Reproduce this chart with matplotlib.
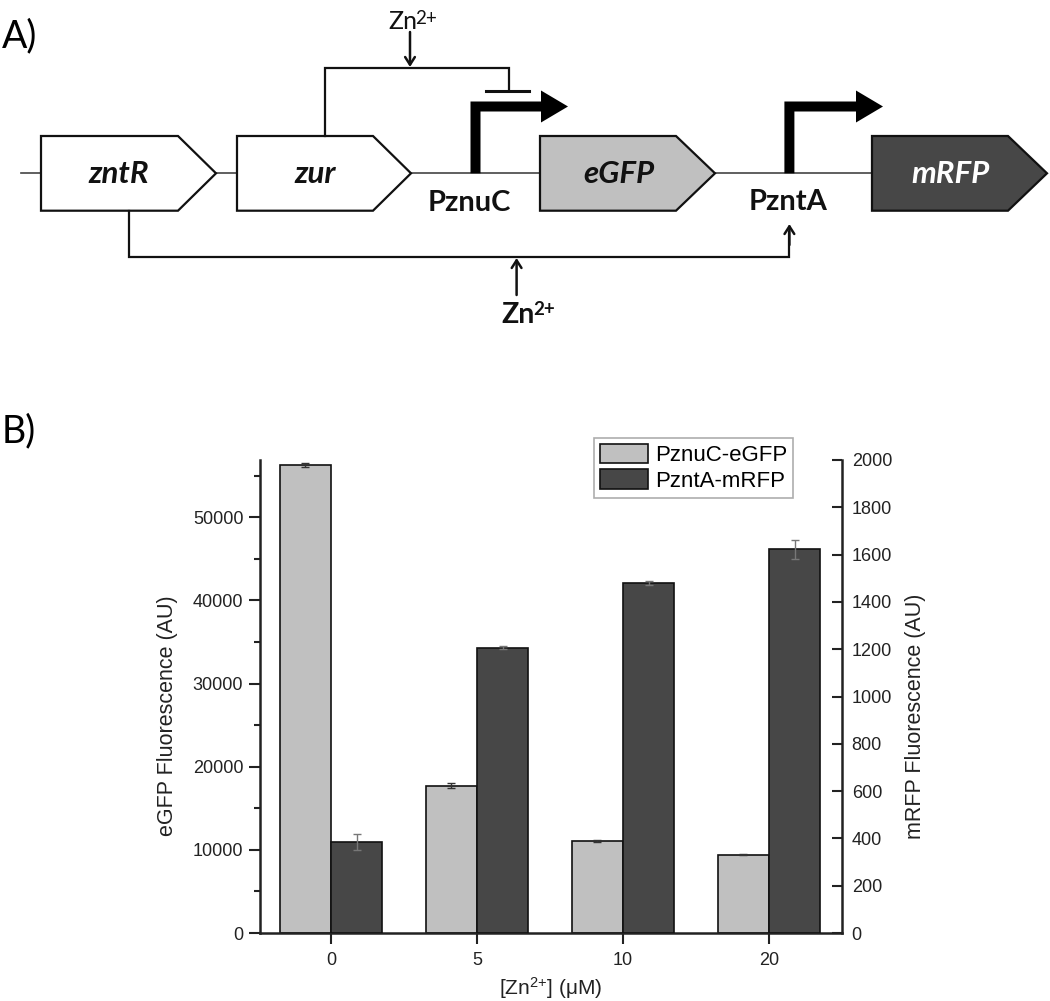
import numpy as np
import matplotlib
matplotlib.use("Agg")
import matplotlib.pyplot as plt
from matplotlib.patches import Polygon

# ---------------- data (panel B) ----------------
conc_labels = ["0", "5", "10", "20"]
egfp = [56300, 17700, 11100, 9400]
egfp_err = [250, 300, 120, 60]
mrfp = [385, 1207, 1480, 1622]
mrfp_err = [35, 8, 10, 40]
series_names = ["PznuC-eGFP", "PzntA-mRFP"]

# ---------------- diagram labels (panel A) ----------------
gene_names = ["zntR", "zur", "eGFP", "mRFP"]
promoter_names = ["PznuC", "PzntA"]

LIGHT = "#c0c0c0"
DARK = "#474747"

W, H = 1050, 1001
plt.rcParams["mathtext.default"] = "regular"
fig = plt.figure(figsize=(W / 100, H / 100), dpi=100)

# overlay axis in pixel coordinates for the diagram
ad = fig.add_axes([0, 0, 1, 1])
ad.set_xlim(0, W)
ad.set_ylim(H, 0)
ad.axis("off")

DFONT = "Lato"
INK = "#111111"
ad.text(2, 36, "A)", fontsize=27, family=DFONT, ha="left", va="center")
ad.text(2, 431, "B)", fontsize=27, family=DFONT, ha="left", va="center")

# backbone
ad.plot([21, 872], [173.3, 173.3], color="#444444", lw=1.2, zorder=1)

top, bot, mid = 136, 210.7, 173.3
genes = [(41, 178, 216, "white"), (237, 373, 411, "white"),
         (540, 676, 715, LIGHT), (872, 1008, 1047, DARK)]
label_x = [119, 315, 619, 951]
for (x0, x1, tip, fc), name, lx in zip(genes, gene_names, label_x):
    ad.add_patch(Polygon([(x0, top), (x1, top), (tip, mid), (x1, bot), (x0, bot)],
                         closed=True, fc=fc, ec=INK, lw=1.6, zorder=2))
    ad.text(lx, mid + 1, name, fontsize=22.5, family=DFONT, fontweight="bold",
            style="italic", ha="center", va="center",
            color="white" if fc == DARK else INK, zorder=3)

def bent_arrow(xv, y0, yh, xb, xt, t=10, hh=16):
    pts = [(xv - t / 2, y0), (xv - t / 2, yh - t / 2), (xb, yh - t / 2), (xb, yh - hh),
           (xt, yh), (xb, yh + hh), (xb, yh + t / 2), (xv + t / 2, yh + t / 2), (xv + t / 2, y0)]
    ad.add_patch(Polygon(pts, closed=True, fc="black", ec="none", zorder=3))

bent_arrow(475.5, 173.3, 106.5, 541, 568)
bent_arrow(789.4, 173.3, 106.5, 856, 883)
ad.text(469, 203, promoter_names[0], fontsize=21, family=DFONT, fontweight="bold",
        ha="center", va="center", color=INK)
ad.text(788, 202, promoter_names[1], fontsize=21, family=DFONT, fontweight="bold",
        ha="center", va="center", color=INK)

# repression by zur
ad.plot([324.5, 324.5, 509, 509], [136, 68.3, 68.3, 90.7], color=INK, lw=1.6,
        solid_joinstyle="miter", zorder=2)
ad.plot([486, 529], [90.7, 90.7], color=INK, lw=2.2, zorder=2)

# activation by zntR
ad.plot([129, 129, 789.4, 789.4], [210.7, 257, 257, 232], color=INK, lw=1.6,
        solid_joinstyle="miter", zorder=2)
arrow_kw = dict(arrowstyle="->,head_length=0.55,head_width=0.35", lw=1.8, color=INK,
                shrinkA=0, shrinkB=0)
ad.annotate("", xy=(789.4, 224), xytext=(789.4, 245), arrowprops=arrow_kw)

# Zn2+ arrows and labels
def zn_label(xs, base, sup_base, size, sup_size, weight):
    ad.text(xs, base, "Zn", fontsize=size, family=DFONT, fontweight=weight,
            ha="right", va="baseline", color=INK)
    ad.text(xs - 2, sup_base, "2+", fontsize=sup_size, family=DFONT, fontweight=weight,
            ha="left", va="baseline", color=INK)

ad.annotate("", xy=(410, 67), xytext=(410, 32), arrowprops=arrow_kw)
zn_label(417, 29, 24.5, 18, 13.5, "normal")
ad.annotate("", xy=(516.6, 258), xytext=(516.6, 295), arrowprops=arrow_kw)
zn_label(535, 323, 315, 20.5, 13.5, "bold")

# ---------------- panel B bar chart ----------------
CFONT = "Liberation Sans"
plt.rcParams["font.family"] = CFONT
ax = fig.add_axes([260 / W, 1 - 933 / H, 582 / W, 473 / H])
ax2 = ax.twinx()
x = np.arange(len(conc_labels))
w = 0.35
b1 = ax.bar(x - w / 2, egfp, w, yerr=egfp_err, color=LIGHT, edgecolor=INK, lw=1.2,
            error_kw=dict(ecolor="#333333", elinewidth=1.0, capsize=3, capthick=1.0),
            label=series_names[0], zorder=2)
b2 = ax2.bar(x + w / 2, mrfp, w, yerr=mrfp_err, color=DARK, edgecolor=INK, lw=1.2,
             error_kw=dict(ecolor="#777777", elinewidth=1.0, capsize=3, capthick=1.0),
             label=series_names[1], zorder=2)

ax.set_xlim(-0.486, 3.5)
ax.set_ylim(0, 56900)
ax2.set_ylim(0, 2000)
ax.set_xticks(x)
ax.set_xticklabels(conc_labels)
ax.set_yticks(np.arange(0, 50001, 10000))
ax.set_yticks(np.arange(5000, 56000, 10000), minor=True)
ax2.set_yticks(np.arange(0, 2001, 200))

for a in (ax, ax2):
    a.spines["top"].set_visible(False)
    for s in a.spines.values():
        s.set_linewidth(1.8)
        s.set_color("#222222")
ax.spines["right"].set_visible(False)
ax2.spines["left"].set_visible(False)
ax2.spines["bottom"].set_visible(False)
ax.patch.set_visible(False)

TC = "#222222"
ax.tick_params(axis="y", which="major", direction="out", length=8, width=1.5,
               labelsize=13, pad=4, colors=TC)
ax.tick_params(axis="y", which="minor", direction="out", length=4.5, width=1.5, colors=TC)
ax.tick_params(axis="x", direction="out", length=8, width=1.5, labelsize=13, pad=6, colors=TC)
ax2.tick_params(axis="y", direction="in", length=7, width=1.5, labelsize=13, pad=7, colors=TC)

ax.set_ylabel("eGFP Fluorescence (AU)", fontsize=15.5, color=TC, ha="center", va="center")
ax.yaxis.set_label_coords((167 - 260) / 582, (933 - 716) / 473)
ax2.set_ylabel("mRFP Fluorescence (AU)", fontsize=15.5, color=TC, ha="center", va="center")
ax2.yaxis.set_label_coords((915 - 260) / 582, (933 - 716) / 473)
ax.set_xlabel("[Zn$^{2{+}}$] (μM)", fontsize=15, color=TC, va="center")
ax.xaxis.set_label_coords(0.5, (933 - 988) / 473)

leg = ax2.legend(handles=[b1, b2], loc="upper left",
                 bbox_to_anchor=(594 / W, 1 - 438 / H), bbox_transform=fig.transFigure,
                 borderaxespad=0, fontsize=16, frameon=True, fancybox=False,
                 handlelength=2.2, handleheight=1.0, handletextpad=0.3,
                 labelspacing=0.15, borderpad=0.25)
leg.get_frame().set_edgecolor("#999999")
leg.get_frame().set_linewidth(1.2)

fig.savefig("out.png", dpi=100)
